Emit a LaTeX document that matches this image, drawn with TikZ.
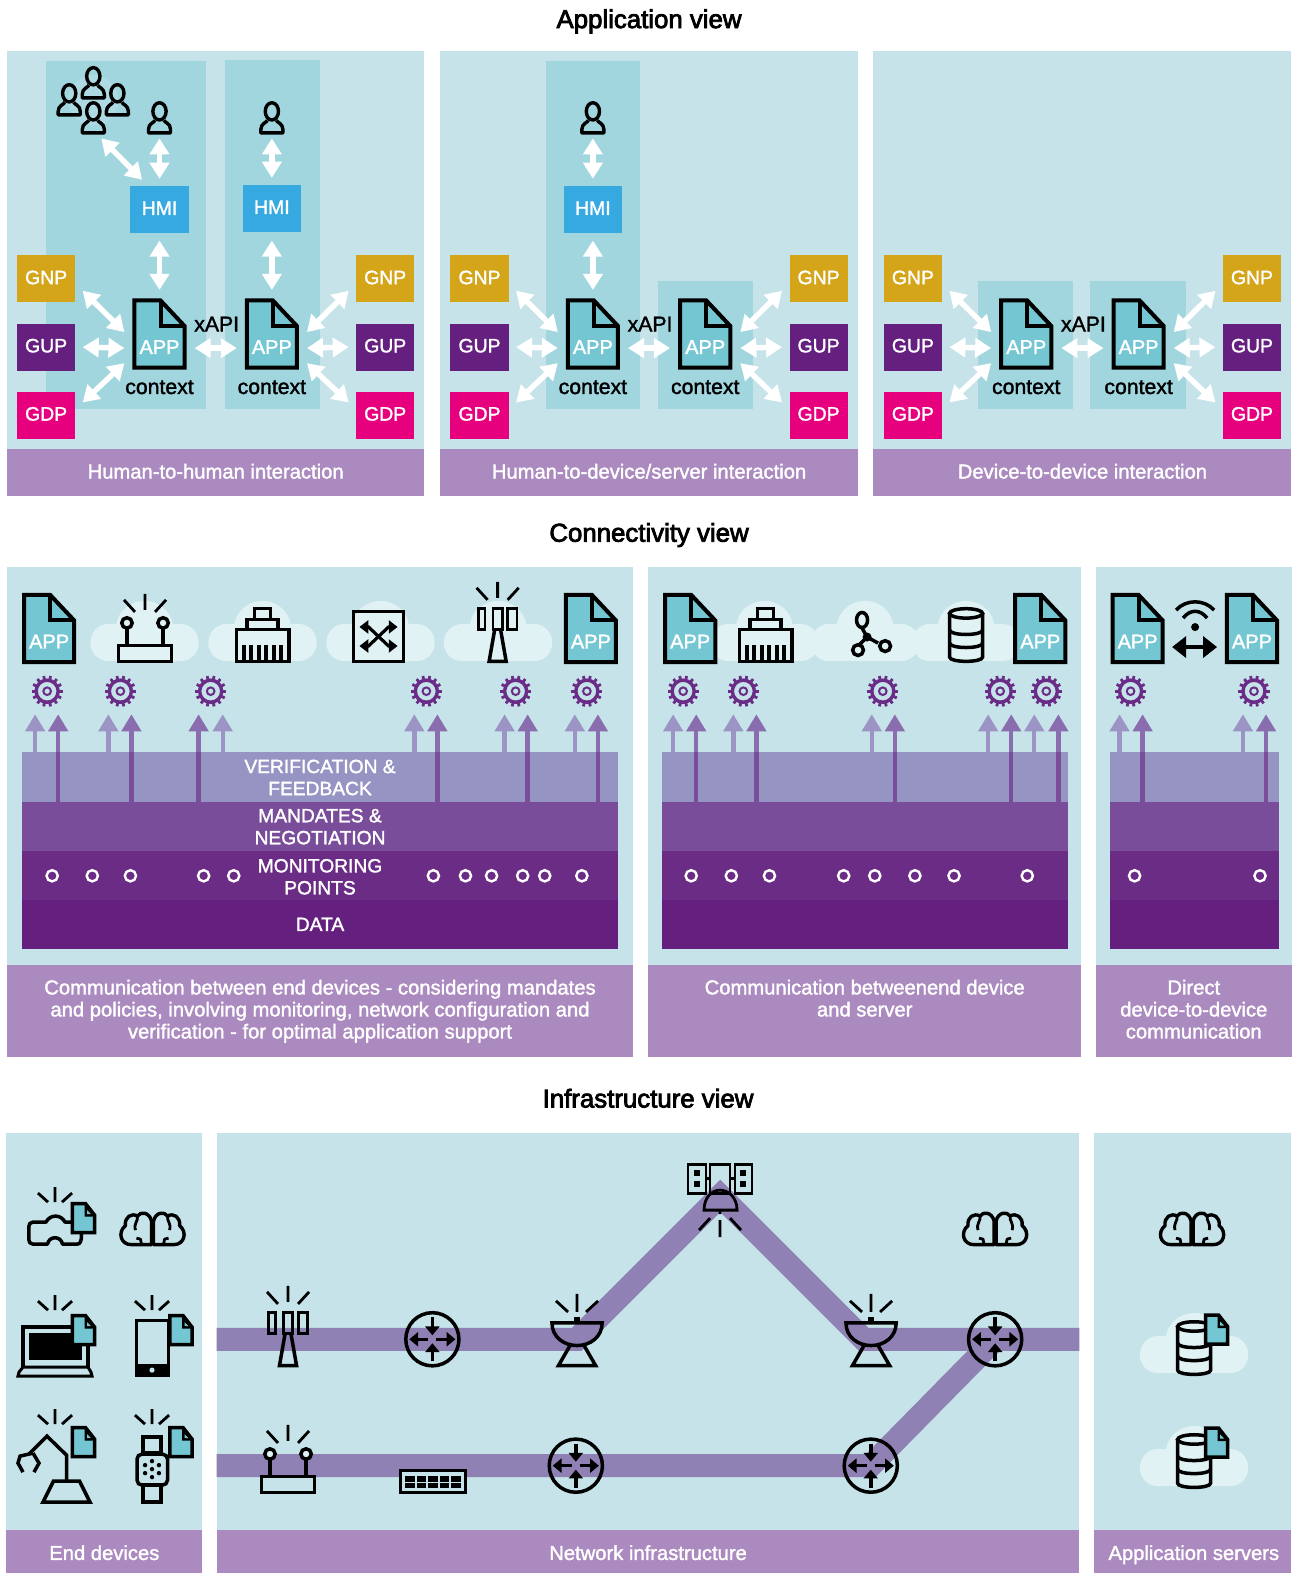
\documentclass[tikz,border=0pt]{standalone}
\usepackage{fontspec}
\setmainfont{Liberation Sans}[FakeBold=1.6]
\newfontfamily\headfont{Liberation Sans}[FakeBold=3]
\usepackage{tikz}
\usetikzlibrary{arrows.meta,calc}

\definecolor{panelbg}{HTML}{C5E3E8}
\definecolor{innerbg}{HTML}{A2D6DF}
\definecolor{crowdbg}{HTML}{AEDBE3}
\definecolor{docteal}{HTML}{74C7D2}
\definecolor{bandlilac}{HTML}{AB8ABF}
\definecolor{hmiblue}{HTML}{36A9E1}
\definecolor{gnpgold}{HTML}{D4A419}
\definecolor{gupviolet}{HTML}{651F7F}
\definecolor{monitorviolet}{HTML}{6A2C84}
\definecolor{gdppink}{HTML}{E6007E}
\definecolor{verifyviolet}{HTML}{9694C2}
\definecolor{mandateviolet}{HTML}{7A4D9A}
\definecolor{headdark}{HTML}{8A6DAE}
\definecolor{headlight}{HTML}{9C94C4}
\definecolor{gearviolet}{HTML}{6A2C86}
\definecolor{linkviolet}{HTML}{8F81B4}
\definecolor{cloudfill}{HTML}{E1F2F5}

\tikzset{
viewtitle/.style={font=\headfont\fontsize{12.9}{14}\selectfont, text=black, text height=11.5pt, text depth=2.5pt},
bandtext/.style={font=\fontsize{10.1}{11}\selectfont, text=white, align=center},
oneline/.style={text height=9pt, text depth=2pt},
blacktext/.style={font=\fontsize{10.6}{11}\selectfont, text=black},
layertext/.style={font=\fontsize{9.6}{11}\selectfont, text=white, align=center},
tagbox/.style={minimum width=29.1pt, minimum height=23.5pt, inner sep=0pt, text=white, text depth=1.5pt, font=\fontsize{9.7}{11}\selectfont},
whitearrow/.style={draw=white, line width=2.7pt, {Triangle[length=8pt,width=9.5pt]}-{Triangle[length=8pt,width=9.5pt]}},
icon/.style={draw=black, line width=1.75pt, line join=miter},
lightup/.style={draw=headlight, line width=2.2pt, -{Triangle[length=8.5pt,width=9.5pt]}},
darkup/.style={draw=headdark, line width=2.2pt, -{Triangle[length=8.5pt,width=9.5pt]}},
darkstem/.style={draw=mandateviolet, line width=2.2pt},
linkband/.style={draw=linkviolet, line width=11.5pt, line join=miter},
fullpx/.style={scale=.9969},
appdoc/.pic={
  \draw[icon, line width=2pt, fill=docteal] (-25,-33.5) -- (1,-33.5) -- (25,-8) -- (25,33.5) -- (-25,33.5) -- cycle;
  \draw[icon, line width=2pt] (1,-33.5) -- (1,-8) -- (25,-8);
  \node[text=white, font=\fontsize{10}{11}\selectfont, inner sep=0pt] (-txt) at (0,13) {APP};
  \coordinate (-w) at (-35,14); \coordinate (-e) at (35,14);
  \coordinate (-nw) at (-35,-2); \coordinate (-ne) at (35,-2);
  \coordinate (-sw) at (-35,29); \coordinate (-se) at (35,29);
  \coordinate (-n) at (0,-44);
},
smalldoc/.pic={
  \draw[icon, fill=docteal] (-11,-14.5) -- (2,-14.5) -- (11,-3) -- (11,14.5) -- (-11,14.5) -- cycle;
  \fill[black] (1,-14.5) -- (12,-1.5) -- (1,-1.5) -- cycle;
  \fill[docteal] (3.5,-8) -- (7.5,-4) -- (3.5,-4) -- cycle;
},
person/.pic={
  \draw[icon, line width=1.7pt] (0,-7) ellipse [x radius=6.6, y radius=8.6];
  \draw[icon, line width=1.7pt, line join=round] (-4.5,2) .. controls (-5,4) and (-11,5) .. (-11,11) -- (-11,14.5) -- (11,14.5) -- (11,11) .. controls (11,5) and (5,4) .. (4.5,2);
  \coordinate (-foot) at (0,16);
},
rays/.pic={
  \draw[icon, line width=1.4pt] (0,-15) -- (0,0) (-17,-9) -- (-7,0) (17,-9) -- (7,0);
},
bigrays/.pic={
  \draw[icon, line width=1.4pt] (0,-16) -- (0,0) (-21,-10) -- (-10,2) (21,-10) -- (10,2);
},
cloudpuff/.pic={
  \fill[cloudfill] (-36,0) .. controls (-46,0) and (-54,-8) .. (-54,-18) .. controls (-54,-29) and (-46,-37) .. (-36,-37) -- (-28,-37) .. controls (-26,-50) and (-14,-60) .. (0,-60) .. controls (14,-60) and (26,-50) .. (28,-37) -- (36,-37) .. controls (46,-37) and (54,-29) .. (54,-18) .. controls (54,-8) and (46,0) .. (36,0) -- cycle;
},
wifirouter/.pic={
  \draw[icon] (-26.25,-17.5) rectangle (26.25,-1.75);
  \draw[icon] (-18,-35) -- (-18,-17.5) (18,-35) -- (18,-17.5);
  \draw[icon, fill=cloudfill] (-18,-40) circle [radius=5.2];
  \draw[icon, fill=cloudfill] (18,-40) circle [radius=5.2];
  \pic at (0,-53) {bigrays};
},
celltower/.pic={
  \draw[icon, line width=1.4pt] (-19.3,-54.6) rectangle (-12.7,-33.4);
  \draw[icon, line width=1.4pt] (-4.6,-54.6) rectangle (4.6,-33.4);
  \draw[icon, line width=1.4pt] (10.1,-54.6) rectangle (19.3,-33.4);
  \draw[icon] (-3,-33) -- (-8.5,-1.6) -- (8.5,-1.6) -- (3,-33);
  \pic at (0,-65) {bigrays};
},
plugbox/.pic={
  \draw[icon] (-26.25,-33.5) rectangle (26.25,-1.75);
  \draw[icon] (-15.5,-43.5) rectangle (15.5,-33.5);
  \draw[icon] (-8,-54.5) rectangle (8,-43.5);
  \foreach \x in {-19,-11.5,-4,3.5,11,18.5} {
    \fill[black] (\x-2,-18) rectangle (\x+2,0);
  }
},
switchbox/.pic={
  \draw[icon] (-25,-51.5) rectangle (25,-1.75);
  \draw[icon, line width=1.6pt, {Triangle[length=4.4pt,width=6.5pt]}-{Triangle[length=4.4pt,width=6.5pt]}] (-19,-36) -- (-10,-36) -- (10,-17) -- (19,-17);
  \draw[icon, line width=1.6pt, {Triangle[length=4.4pt,width=6.5pt]}-{Triangle[length=4.4pt,width=6.5pt]}] (-19,-17) -- (-10,-17) -- (10,-36) -- (19,-36);
},
hubicon/.pic={
  \draw[icon] (-5,-9) -- (0,0) -- (-7,7) (0,0) -- (11,6);
  \fill[black] (0,0) circle [radius=4.5];
  \draw[icon] (-5,-17) ellipse [x radius=5.5, y radius=7.5];
  \draw[icon] (-9,13) circle [radius=5.4];
  \draw[icon] (18,9) circle [radius=5.4];
},
dbstack/.pic={
  \draw[icon] (0,-49.5) ellipse [x radius=16.5, y radius=4.7];
  \draw[icon] (-16.5,-49.5) -- (-16.5,-6) .. controls (-16.5,-.3) and (16.5,-.3) .. (16.5,-6) -- (16.5,-49.5);
  \draw[icon] (-16.5,-33) .. controls (-16.5,-27) and (16.5,-27) .. (16.5,-33);
  \draw[icon] (-16.5,-20) .. controls (-16.5,-14) and (16.5,-14) .. (16.5,-20);
},
gearwheel/.pic={
  \draw[gearviolet, line width=1.7pt] (0,0) circle [radius=11];
  \draw[gearviolet, line width=1pt] (0,0) circle [radius=3.8];
  \foreach \a in {0,25.71,51.43,77.14,102.86,128.57,154.29,180,205.71,231.43,257.14,282.86,308.57,334.29} {
    \draw[gearviolet, line width=1.4pt] (\a:11.5) -- (\a:15.5);
  }
},
routerdisc/.pic={
  \draw[icon] (0,0) circle [radius=26.5];
  \draw[icon, -{Triangle[length=4.4pt,width=7pt]}] (0,-22) -- (0,-4);
  \draw[icon, -{Triangle[length=4.4pt,width=7pt]}] (0,22) -- (0,4);
  \draw[icon, -{Triangle[length=4.4pt,width=7pt]}] (-4,0) -- (-23,0);
  \draw[icon, -{Triangle[length=4.4pt,width=7pt]}] (4,0) -- (23,0);
},
brainicon/.pic={
  \foreach \s in {-1,1} {
    \begin{scope}[xscale=\s]
      \draw[icon, line width=1.7pt, line join=round] (1,15.5) -- (21,15.5) .. controls (32,15.5) and (35,3) .. (27,-3.5) .. controls (28,-12) and (21,-16.5) .. (15,-13) .. controls (12,-18) and (3,-17) .. (1,-8) -- cycle;
      \draw[icon, line width=1.4pt, line join=round] (15,-13) .. controls (14,-8) and (19,-6) .. (17,1) (11,15) -- (12,10) -- (16,9);
    \end{scope}
  }
},
dishantenna/.pic={
  \draw[icon] (-25,-44) -- (25,-44) .. controls (25,-30) and (13,-21.5) .. (0,-21.5) .. controls (-13,-21.5) and (-25,-30) .. (-25,-44) -- cycle;
  \draw[icon] (-7,-21.5) -- (-18.5,-1.6) -- (18.5,-1.6) -- (7,-21.5);
  \fill[black] (-3,-50) rectangle (3,-44);
  \draw[icon, line width=1.4pt] (0,-73) -- (0,-55) (-21,-66) -- (-9,-55) (21,-66) -- (9,-55);
},
}

\begin{document}
\begin{tikzpicture}[x=.5015pt,y=-.5015pt]
    \useasboundingbox (0,0) rectangle (1288,1568);
    \fill[white] (0,0) rectangle (1288,1568);

    % application view
    \node[viewtitle] (apptitle) at (647,19) {Application view};
    \foreach \l/\r in {7/423,439/855,870/1287} {
        \fill[panelbg] (\l,51) rectangle (\r,448);
        \fill[bandlilac] (\l,448) rectangle (\r,494);
    }
    \fill[innerbg] (46,61) rectangle (205,408);
    \fill[innerbg] (224,60) rectangle (319,408);
    \fill[innerbg] (544,61) rectangle (638,408);
    \fill[innerbg] (656,280) rectangle (751,408);
    \fill[innerbg] (975,280) rectangle (1070,408);
    \fill[innerbg] (1087,280) rectangle (1182,408);
    \node[bandtext, oneline] (appbanda) at (215,470) {Human-to-human interaction};
    \node[bandtext, oneline] (appbandb) at (647,470) {Human-to-device/server interaction};
    \node[bandtext, oneline] (appbandc) at (1079,470) {Device-to-device interaction};

    \foreach \p/\s in {a/0,b/432,c/864} {
        \begin{scope}[shift={(\s,0)}]
            \node[tagbox, fill=gnpgold] (gnpl\p) at (46,278) {GNP};
            \node[tagbox, fill=gupviolet] (gupl\p) at (46,346) {GUP};
            \node[tagbox, fill=gdppink] (gdpl\p) at (46,414) {GDP};
            \node[tagbox, fill=gnpgold] (gnpr\p) at (384,278) {GNP};
            \node[tagbox, fill=gupviolet] (gupr\p) at (384,346) {GUP};
            \node[tagbox, fill=gdppink] (gdpr\p) at (384,414) {GDP};
            \pic (docl\p) at (159,333) {appdoc};
            \pic (docr\p) at (271,333) {appdoc};
            \node[blacktext] (ctxl\p) at (159,386) {context};
            \node[blacktext] (ctxr\p) at (271,386) {context};
            \node[blacktext] (xapi\p) at (216,323) {xAPI};
            \draw[whitearrow] ([shift={(7,-12)}]gnpl\p.south east) -- (docl\p-nw);
            \draw[whitearrow] ([shift={(7,0)}]gupl\p.east) -- (docl\p-w);
            \draw[whitearrow] ([shift={(7,11)}]gdpl\p.north east) -- (docl\p-sw);
            \draw[whitearrow] ([shift={(-7,-12)}]gnpr\p.south west) -- (docr\p-ne);
            \draw[whitearrow] ([shift={(-7,0)}]gupr\p.west) -- (docr\p-e);
            \draw[whitearrow] ([shift={(-7,11)}]gdpr\p.north west) -- (docr\p-se);
            \draw[whitearrow] (docl\p-e) -- (docr\p-w);
        \end{scope}
    }

    \node[tagbox, fill=hmiblue] (hmia) at (159,209) {HMI};
    \node[tagbox, fill=hmiblue] (hmib) at (271,208) {HMI};
    \node[tagbox, fill=hmiblue] (hmic) at (591,209) {HMI};
    \draw[whitearrow] ([shift={(0,7)}]hmia.south) -- (docla-n);
    \draw[whitearrow] ([shift={(0,8)}]hmib.south) -- (docra-n);
    \draw[whitearrow] ([shift={(0,7)}]hmic.south) -- (doclb-n);

    \fill[crowdbg] (93,100) circle [radius=25];
    \pic at (93,83) {person};
    \pic at (69,100) {person};
    \pic at (117,100) {person};
    \pic at (93,118) {person};
    \coordinate (crowdfoot) at (101,138);
    \pic (usera) at (159,118) {person};
    \pic (userb) at (271,118) {person};
    \pic (userc) at (591,118) {person};
    \draw[whitearrow] (crowdfoot) -- ([shift={(12,-6)}]hmia.north west);
    \draw[whitearrow] ([shift={(0,4)}]usera-foot) -- ([shift={(0,-7)}]hmia.north);
    \draw[whitearrow] ([shift={(0,4)}]userb-foot) -- ([shift={(0,-7)}]hmib.north);
    \draw[whitearrow] ([shift={(0,4)}]userc-foot) -- ([shift={(0,-7)}]hmic.north);

    % connectivity view
    \node[viewtitle] (contitle) at (647,531) {Connectivity view};
    \foreach \l/\r in {7/631,646/1078,1093/1288} {
        \fill[panelbg] (\l,565) rectangle (\r,962);
        \fill[bandlilac] (\l,962) rectangle (\r,1054);
    }
    \foreach \l/\r in {22/616,660/1065,1106/1275} {
        \fill[verifyviolet] (\l,750) rectangle (\r,799);
        \fill[mandateviolet] (\l,799) rectangle (\r,848);
        \fill[monitorviolet] (\l,848) rectangle (\r,897);
        \fill[gupviolet] (\l,897) rectangle (\r,946);
    }
    \foreach \x in {35,108,222,413,503,573,671,731,869,985,1031,1116,1239} {
        \draw[lightup] (\x,750) -- (\x,712);
    }
    \foreach \x in {58,131,198,436,526,596,694,754,892,1008,1055,1139,1262} {
        \draw[darkup] (\x,750) -- (\x,712);
        \draw[darkstem] (\x,799) -- (\x,750);
    }
    \foreach \x in {47,120,210,425,514,585,681,741,880,997,1043,1127,1250} {
        \pic at (\x,689) {gearwheel};
    }
    \foreach \x in {52,92,130,203,233,432,464,490,521,543,580,689,729,767,841,872,912,951,1024,1131,1256} {
        \draw[white, line width=1.2pt] (\x,873) circle [radius=5.6];
    }
    \node[layertext] (verify) at (319,775) {VERIFICATION \&\\FEEDBACK};
    \node[layertext] (mandate) at (319,824) {MANDATES \&\\NEGOTIATION};
    \node[layertext] (monitor) at (319,874) {MONITORING\\POINTS};
    \node[layertext, oneline] (datalabel) at (319,921) {DATA};
    \node[bandtext] (conbanda) at (319,1008) {Communication between end devices - considering mandates\\and policies, involving monitoring, network configuration and\\verification - for optimal application support};
    \node[bandtext] (conbandb) at (862,995) {Communication betweenend device\\and server};
    \node[bandtext] (conbandc) at (1190,1006) {Direct\\device-to-device\\communication};

    \begin{scope}[fullpx]
        \foreach \x in {144.5,262.5,380.5,498,764.4,865,966} {
            \pic at (\x,661) {cloudpuff};
        }
        \pic at (145,663) {wifirouter};
        \pic at (262.6,663) {plugbox};
        \pic at (378.5,663) {switchbox};
        \pic at (497.6,663) {celltower};
        \pic at (765.6,663) {plugbox};
        \pic at (867,637) {hubicon};
        \pic at (966,663) {dbstack};
        \coordinate (wifil) at (1172,647);
        \coordinate (wifir) at (1217,647);
        \draw[icon, {Triangle[length=7pt,width=10.5pt]}-{Triangle[length=7pt,width=10.5pt]}] (wifil) -- (wifir);
        \draw[icon] (1176,610) .. controls (1186,599) and (1204,599) .. (1214,610);
        \draw[icon] (1183,618) .. controls (1190,609) and (1200,609) .. (1207,618);
        \fill[black] (1195,627) circle [radius=4];
    \end{scope}
    \foreach \x in {49,589,688,1037,1134,1248} {
        \pic at (\x,626.5) {appdoc};
    }

    % infrastructure view
    \node[viewtitle] (inftitle) at (646,1095) {Infrastructure view};
    \foreach \l/\r in {6/201,216/1076,1091/1287} {
        \fill[panelbg] (\l,1129) rectangle (\r,1525);
        \fill[bandlilac] (\l,1525) rectangle (\r,1568);
    }
    \node[bandtext, oneline] (infbanda) at (104,1548) {End devices};
    \node[bandtext, oneline] (infbandb) at (646,1548) {Network infrastructure};
    \node[bandtext, oneline] (infbandc) at (1190,1548) {Application servers};

    \coordinate (linka) at (216,1335);
    \coordinate (dishl) at (575,1335);
    \coordinate (satup) at (718,1192);
    \coordinate (dishr) at (861,1335);
    \coordinate (linkb) at (1076,1335);
    \coordinate (linkc) at (216,1461);
    \coordinate (routerl) at (868,1461);
    \coordinate (routerr) at (992,1335);
    \draw[linkband] (linka) -- (dishl) -- (satup) -- (dishr) -- (linkb);
    \draw[linkband] (linkc) -- (routerl) -- (routerr);

    \pic at (431,1335) {routerdisc};
    \pic at (574,1461) {routerdisc};
    \pic at (routerl) {routerdisc};
    \pic at (routerr) {routerdisc};

    \begin{scope}[fullpx]
        \pic at (288,1367) {celltower};
        \pic at (288,1494) {wifirouter};
        \pic at (577,1367) {dishantenna};
        \pic at (871,1367) {dishantenna};

        % patch panel
        \draw[icon, fill=panelbg] (400.5,1470.5) rectangle (465.5,1492.5);
        \fill[black] (405,1476) rectangle (461,1488);
        \draw[panelbg, line width=.6pt] (405,1482) -- (461,1482);
        \foreach \x in {416,427,439,450} {
            \draw[panelbg, line width=.6pt] (\x,1476) -- (\x,1488);
        }

        % satellite
        \draw[icon, line width=1.4pt] (688,1164) rectangle (706,1193);
        \draw[icon, line width=1.4pt] (710,1164) rectangle (730,1193);
        \draw[icon, line width=1.4pt] (735,1164) rectangle (752,1193);
        \draw[icon, line width=1.4pt] (706,1178) -- (710,1178) (730,1178) -- (735,1178);
        \foreach \x in {694,740} {
            \fill[black] (\x,1170) rectangle (\x+6,1176);
            \fill[black] (\x,1181) rectangle (\x+6,1187);
        }
        \draw[icon, line width=1.4pt] (704,1210) -- (737,1210) .. controls (737,1197) and (728,1190) .. (720,1190) .. controls (712,1190) and (704,1197) .. (704,1210) -- cycle;
        \draw[icon, line width=1.4pt] (720,1210) -- (720,1214) (720,1220) -- (720,1237) (710,1218) -- (699,1230) (730,1218) -- (741,1230);

        % headset
        \pic at (55,1202) {rays};
        \draw[icon, line join=round] (71,1222) -- (65,1222) .. controls (61,1214) and (50,1214) .. (46,1222) -- (33,1222) .. controls (30,1222) and (28.75,1224) .. (28.75,1227) -- (28.75,1239) .. controls (28.75,1242) and (30,1244) .. (33,1244) -- (47.5,1244) .. controls (49,1235.5) and (61,1235.5) .. (62.5,1244) -- (77,1244) .. controls (80,1244) and (81.5,1242) .. (81.5,1234);
        \pic at (83.5,1218) {smalldoc};
        \pic at (152.5,1229) {brainicon};

        % laptop
        \pic at (55,1310) {rays};
        \draw[icon] (23,1367) -- (23,1327) -- (88,1327) -- (88,1367);
        \fill[black] (29,1333) rectangle (82,1360);
        \draw[icon, line width=1.5pt] (18,1376) -- (92,1376) -- (91,1372) -- (88,1367) -- (23,1367) -- (19,1372) -- cycle;
        \pic at (83.5,1330) {smalldoc};

        % phone
        \pic at (152,1310) {rays};
        \draw[icon] (136.5,1320.5) rectangle (168.5,1375);
        \fill[black] (136,1363.5) rectangle (169,1376.5);
        \fill[panelbg] (152,1370) circle [radius=2.6];
        \pic at (181,1330) {smalldoc};

        % robot arm
        \pic at (55,1424) {rays};
        \draw[icon] (53.5,1481) -- (79.5,1481) -- (90,1502) -- (43,1502) -- cycle;
        \draw[icon] (66.5,1481) -- (66.5,1455) -- (47,1436) -- (29,1454);
        \draw[icon] (33,1453) -- (20,1456) -- (18,1463) -- (23,1472) (33,1453) -- (39,1463) -- (34,1472);
        \pic at (83.5,1442) {smalldoc};

        % watch
        \pic at (152,1424) {rays};
        \draw[icon] (143,1437) rectangle (161,1453);
        \draw[icon] (143,1485) rectangle (161,1502);
        \draw[icon, rounded corners=2.5pt] (137,1454) rectangle (167.5,1485);
        \fill[black] (152,1469) circle [radius=2.2];
        \foreach \a in {30,90,150,210,270,330} {
            \fill[black] ($(152,1469)+(\a:8)$) circle [radius=2.2];
        }
        \pic at (181,1442) {smalldoc};

        % network and servers
        \pic at (995,1229) {brainicon};
        \pic at (1192,1229) {brainicon};
        \pic at (1194,1373) {cloudpuff};
        \pic at (1194,1486) {cloudpuff};
        \pic at (1194,1376) {dbstack};
        \pic at (1194,1489) {dbstack};
        \pic at (1216.5,1329.5) {smalldoc};
        \pic at (1216.5,1442.5) {smalldoc};
    \end{scope}
\end{tikzpicture}
\end{document}
